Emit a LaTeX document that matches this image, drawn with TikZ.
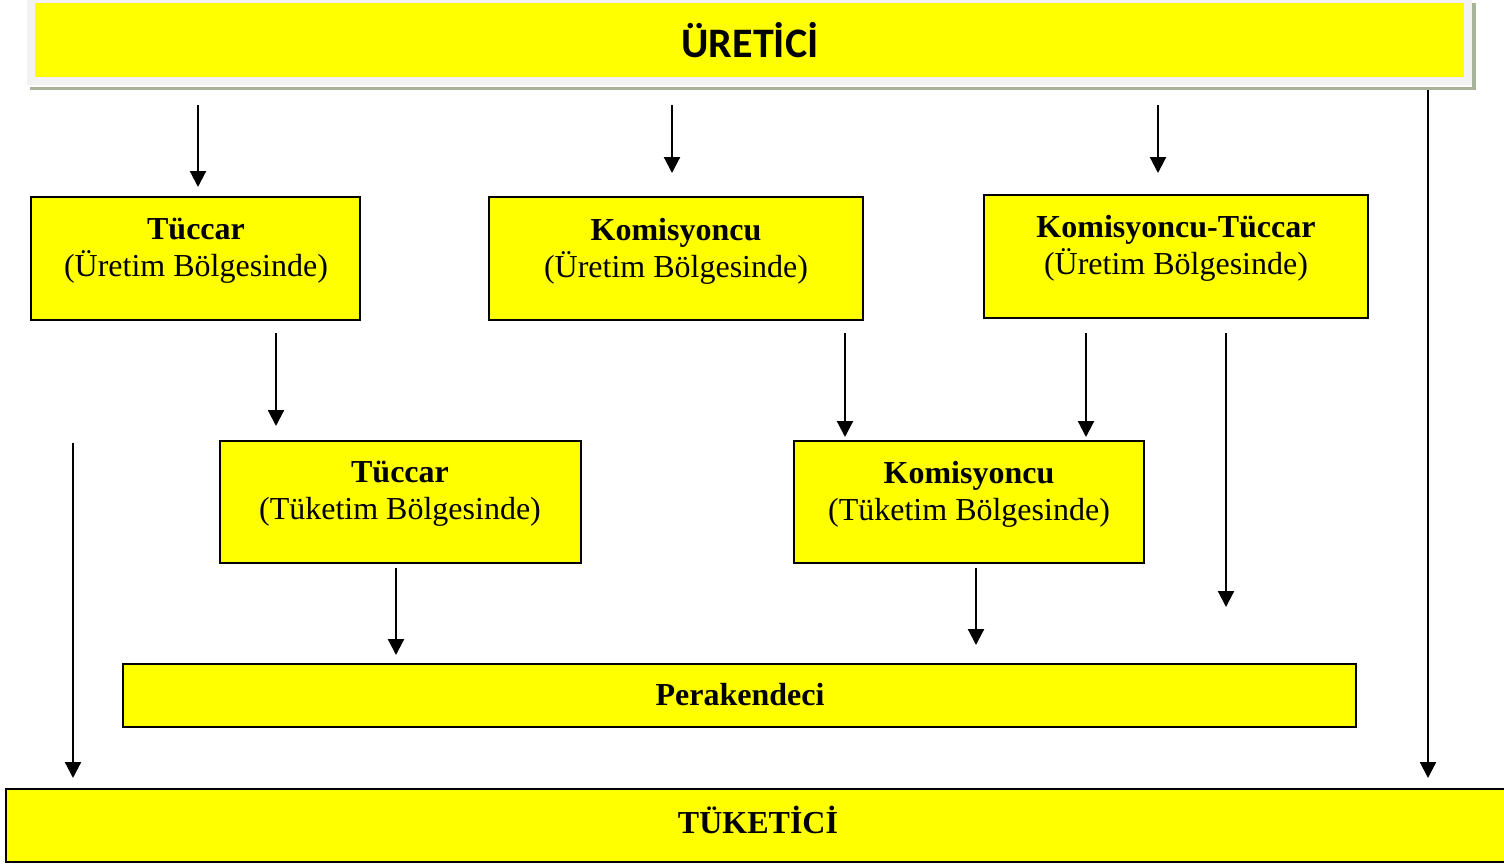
\documentclass[tikz,border=0pt]{standalone}
\usepackage{fontspec}
\setmainfont{Liberation Serif}
\newfontfamily\calibri{Carlito}
\usetikzlibrary{arrows.meta}
\definecolor{boxyellow}{HTML}{FFFF00}
\definecolor{framegray}{HTML}{F2F2F2}
\definecolor{shadowgreen}{HTML}{A9B39A}
\tikzset{
  box/.style={draw=black, line width=2pt, fill=boxyellow, inner sep=0pt, rectangle},
  boxtext/.style={align=center, font=\fontsize{32}{37}\selectfont, inner sep=0pt},
  arr/.style={line width=2.2pt, -{Triangle[length=16pt,width=16pt]}}
}
\begin{document}
\begin{tikzpicture}[x=1pt,y=-1pt]
\useasboundingbox (0,0) rectangle (1504,863);
% top box (producer) with frame and shadow
\fill[shadowgreen] (30,3) rectangle (1476,90);
\fill[white] (27,85) rectangle (1472,86.5);
\fill[framegray] (27,-2) rectangle (1472,85);
\node[fill=boxyellow, inner sep=0pt, minimum width=1429pt, minimum height=74pt] (ur) at (749.5,40) {};
\node[font=\calibri\bfseries\fontsize{42}{46}\selectfont, inner sep=0pt] (urt) at (750,40) {ÜRETİCİ};
% middle boxes
\node[box, minimum width=329pt, minimum height=123pt] (t1) at (195.5,258.5) {};
\node[boxtext] (t1t) at (196,251) {\textbf{Tüccar}\\(Üretim Bölgesinde)};
\node[box, minimum width=374pt, minimum height=123pt] (k1) at (676,258.5) {};
\node[boxtext] (k1t) at (676,251) {\textbf{Komisyoncu}\\(Üretim Bölgesinde)};
\node[box, minimum width=384pt, minimum height=123pt] (kt) at (1176,256.5) {};
\node[boxtext] (ktt) at (1176,248) {\textbf{Komisyoncu-Tüccar}\\(Üretim Bölgesinde)};
\node[box, minimum width=361pt, minimum height=122pt] (t2) at (400.5,502) {};
\node[boxtext] (t2t) at (400,494) {\textbf{Tüccar}\\(Tüketim Bölgesinde)};
\node[box, minimum width=350pt, minimum height=122pt] (k2) at (969,502) {};
\node[boxtext] (k2t) at (969,494) {\textbf{Komisyoncu}\\(Tüketim Bölgesinde)};
\node[box, minimum width=1233pt, minimum height=63pt] (p) at (739.5,695.5) {};
\node[boxtext] (pt) at (740,695) {\textbf{Perakendeci}};
\node[box, minimum width=1502pt, minimum height=73pt] (tk) at (757,825.5) {};
\node[boxtext] (tkt) at (758,820) {\textbf{TÜKETİCİ}};
% arrow coordinates
\coordinate (a1s) at (198,105); \coordinate (a1e) at (198,187);
\coordinate (a2s) at (672,105); \coordinate (a2e) at (672,173);
\coordinate (a3s) at (1158,105); \coordinate (a3e) at (1158,173);
\coordinate (a4s) at (1428,90); \coordinate (a4e) at (1428,778);
\coordinate (a5s) at (73,443); \coordinate (a5e) at (73,778);
\coordinate (a6s) at (276,333); \coordinate (a6e) at (276,426);
\coordinate (a7s) at (845,333); \coordinate (a7e) at (845,437);
\coordinate (a8s) at (1086,333); \coordinate (a8e) at (1086,437);
\coordinate (a9s) at (1226,333); \coordinate (a9e) at (1226,607);
\coordinate (a10s) at (396,568); \coordinate (a10e) at (396,655);
\coordinate (a11s) at (976,568); \coordinate (a11e) at (976,645);
\foreach \i in {1,...,11} { \draw[arr] (a\i s) -- (a\i e); }
\end{tikzpicture}
\end{document}
